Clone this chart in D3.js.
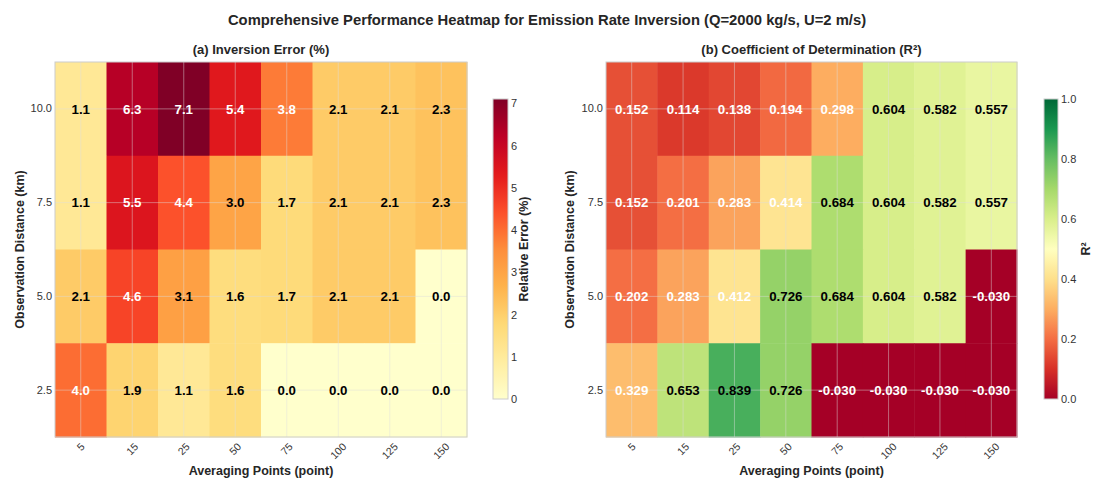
<!DOCTYPE html>
<html>
<head>
<meta charset="utf-8">
<script src="https://cdn.jsdelivr.net/npm/d3@7"></script>
<style>
  html, body { margin: 0; padding: 0; background: #fff; }
  svg { display: block; font-family: "Liberation Sans", Arial, sans-serif; }
</style>
</head>
<body>
<svg id="chart" width="1093" height="479"></svg>
<script>
// ---------- data ----------
const averagingPoints = ["5", "15", "25", "50", "75", "100", "125", "150"];
const distances = ["10.0", "7.5", "5.0", "2.5"]; // top to bottom
const errorValues = [
  [1.1, 6.3, 7.1, 5.4, 3.8, 2.1, 2.1, 2.3],
  [1.1, 5.5, 4.4, 3.0, 1.7, 2.1, 2.1, 2.3],
  [2.1, 4.6, 3.1, 1.6, 1.7, 2.1, 2.1, 0.0],
  [4.0, 1.9, 1.1, 1.6, 0.0, 0.0, 0.0, 0.0]
];
const r2Values = [
  [0.152, 0.114, 0.138, 0.194, 0.298, 0.604, 0.582, 0.557],
  [0.152, 0.201, 0.283, 0.414, 0.684, 0.604, 0.582, 0.557],
  [0.202, 0.283, 0.412, 0.726, 0.684, 0.604, 0.582, -0.030],
  [0.329, 0.653, 0.839, 0.726, -0.030, -0.030, -0.030, -0.030]
];
const errorTicks = [0, 1, 2, 3, 4, 5, 6, 7];
const r2Ticks = [0.0, 0.2, 0.4, 0.6, 0.8, 1.0];

const mainTitle = "Comprehensive Performance Heatmap for Emission Rate Inversion (Q=2000 kg/s, U=2 m/s)";

// ---------- colormaps (matplotlib, linear segmented) ----------
const YlOrRd = ["#ffffcc","#ffeda0","#fed976","#feb24c","#fd8d3c","#fc4e2a","#e31a1c","#bd0026","#800026"];
const RdYlGn = ["#a50026","#d73027","#f46d43","#fdae61","#fee08b","#ffffbf","#d9ef8b","#a6d96a","#66bd63","#1a9850","#006837"];
function cmap(colors) {
  const s = d3.scaleLinear()
    .domain(colors.map((c, i) => i / (colors.length - 1)))
    .range(colors).interpolate(d3.interpolateRgb).clamp(true);
  return t => s(Math.max(0, Math.min(1, t)));
}
const ylorrd = cmap(YlOrRd), rdylgn = cmap(RdYlGn);
const hyphen = f => v => f(v).replace("\u2212", "-");

const errMax = d3.max(errorValues.flat());

const svg = d3.select("#chart");
const defs = svg.append("defs");

svg.append("text")
  .attr("x", 547).attr("y", 25)
  .attr("text-anchor", "middle")
  .attr("font-size", 14.8).attr("font-weight", "bold").attr("fill", "#262626")
  .text(mainTitle);

function panel(cfg) {
  const x = d3.scaleBand().domain(averagingPoints).range([cfg.x0, cfg.x1]);
  const y = d3.scaleBand().domain(distances).range([cfg.y0, cfg.y1]);
  const g = svg.append("g");

  const cells = [];
  cfg.values.forEach((row, i) => row.forEach((v, j) =>
    cells.push({ r: distances[i], c: averagingPoints[j], v })));

  g.selectAll("rect.cell").data(cells).enter().append("rect")
    .attr("class", "cell")
    .attr("x", d => x(d.c)).attr("y", d => y(d.r))
    .attr("width", x.bandwidth() + 0.5).attr("height", y.bandwidth() + 0.5)
    .attr("fill", d => cfg.color(d.v));

  // grid lines (on top of image, seaborn whitegrid)
  g.selectAll("line.vg").data(averagingPoints).enter().append("line")
    .attr("x1", d => x(d) + x.bandwidth() / 2).attr("x2", d => x(d) + x.bandwidth() / 2)
    .attr("y1", cfg.y0).attr("y2", cfg.y1)
    .attr("stroke", "#dddddd").attr("stroke-opacity", 0.45).attr("stroke-width", 1);
  g.selectAll("line.hg").data(distances).enter().append("line")
    .attr("y1", d => y(d) + y.bandwidth() / 2).attr("y2", d => y(d) + y.bandwidth() / 2)
    .attr("x1", cfg.x0).attr("x2", cfg.x1)
    .attr("stroke", "#dddddd").attr("stroke-opacity", 0.45).attr("stroke-width", 1);

  // annotations
  g.selectAll("text.val").data(cells).enter().append("text")
    .attr("x", d => x(d.c) + x.bandwidth() / 2)
    .attr("y", d => y(d.r) + y.bandwidth() / 2)
    .attr("dy", "0.36em")
    .attr("text-anchor", "middle")
    .attr("font-size", 13.3).attr("font-weight", "bold")
    .attr("fill", d => cfg.textColor(d.v))
    .text(d => cfg.fmt(d.v));

  // frame
  g.append("rect")
    .attr("x", cfg.x0).attr("y", cfg.y0)
    .attr("width", cfg.x1 - cfg.x0).attr("height", cfg.y1 - cfg.y0)
    .attr("fill", "none").attr("stroke", "#cccccc").attr("stroke-width", 1);

  // y axis
  const ya = g.append("g").attr("transform", `translate(${cfg.x0 - 3},0)`)
    .call(d3.axisLeft(y).tickSize(0).tickPadding(0));
  ya.select(".domain").remove();
  ya.selectAll("text").attr("font-size", 11).attr("fill", "#333")
    .attr("font-family", "Liberation Sans, Arial, sans-serif");

  // x axis, labels rotated 45 deg, centred on tick
  const xa = g.append("g");
  averagingPoints.forEach(lbl => {
    const t = xa.append("text")
      .attr("font-size", 10.5).attr("fill", "#333")
      .attr("text-anchor", "middle").attr("dy", "0.35em")
      .text(lbl);
    const w = t.node().getComputedTextLength();
    const h = 8;
    const cy = cfg.y1 + 5 + (w + h) / (2 * Math.SQRT2);
    const cx = x(lbl) + x.bandwidth() / 2;
    t.attr("transform", `translate(${cx},${cy}) rotate(-45)`);
  });

  const cxMid = (cfg.x0 + cfg.x1) / 2;
  g.append("text").attr("x", cxMid).attr("y", 475)
    .attr("text-anchor", "middle").attr("font-size", 12.5).attr("font-weight", "bold").attr("fill", "#262626")
    .text("Averaging Points (point)");
  g.append("text")
    .attr("transform", `translate(${cfg.ylabelX},${(cfg.y0 + cfg.y1) / 2}) rotate(-90)`)
    .attr("text-anchor", "middle").attr("dy", "0.35em")
    .attr("font-size", 12.5).attr("font-weight", "bold").attr("fill", "#262626")
    .text("Observation Distance (km)");
  g.append("text").attr("x", cxMid).attr("y", 54)
    .attr("text-anchor", "middle").attr("font-size", 13).attr("font-weight", "bold").attr("fill", "#262626")
    .text(cfg.title);

  // colorbar
  const gid = "grad" + cfg.id;
  const grad = defs.append("linearGradient").attr("id", gid)
    .attr("x1", 0).attr("y1", 1).attr("x2", 0).attr("y2", 0);
  d3.range(0, 1.0001, 0.02).forEach(t => {
    grad.append("stop").attr("offset", t).attr("stop-color", cfg.color(cfg.cbMin + t * (cfg.cbMax - cfg.cbMin)));
  });
  const cb = cfg.cb;
  g.append("rect").attr("x", cb.x).attr("y", cb.y0).attr("width", cb.w).attr("height", cb.y1 - cb.y0)
    .attr("fill", `url(#${gid})`).attr("stroke", "#cccccc").attr("stroke-width", 1);
  const cs = d3.scaleLinear().domain([cfg.cbMin, cfg.cbMax]).range([cb.y1, cb.y0]);
  const ca = g.append("g").attr("transform", `translate(${cb.x + cb.w + 3},0)`)
    .call(d3.axisRight(cs).tickValues(cfg.cbTicks).tickFormat(cfg.cbFmt).tickSize(0).tickPadding(0));
  ca.select(".domain").remove();
  ca.selectAll("text").attr("font-size", 11).attr("fill", "#333")
    .attr("font-family", "Liberation Sans, Arial, sans-serif");
  g.append("text")
    .attr("transform", `translate(${cb.labelX},${(cb.y0 + cb.y1) / 2}) rotate(-90)`)
    .attr("text-anchor", "middle").attr("dy", "0.35em")
    .attr("font-size", 12.5).attr("font-weight", "bold").attr("fill", "#262626")
    .text(cfg.cbLabel);
}

panel({
  id: "a", title: "(a) Inversion Error (%)",
  x0: 55, x1: 467, y0: 62, y1: 437, ylabelX: 20,
  values: errorValues,
  color: v => ylorrd(v / errMax),
  textColor: v => v > errMax / 2 ? "#ffffff" : "#000000",
  fmt: hyphen(d3.format(".1f")),
  cbMin: 0, cbMax: errMax, cbTicks: errorTicks, cbFmt: d3.format("d"),
  cb: { x: 493, w: 15, y0: 99, y1: 399, labelX: 524 },
  cbLabel: "Relative Error (%)"
});

panel({
  id: "b", title: "(b) Coefficient of Determination (R²)",
  x0: 606, x1: 1017, y0: 62, y1: 437, ylabelX: 570,
  values: r2Values,
  color: v => rdylgn(v),
  textColor: v => v < 0.5 ? "#ffffff" : "#000000",
  fmt: hyphen(d3.format(".3f")),
  cbMin: 0, cbMax: 1, cbTicks: r2Ticks, cbFmt: d3.format(".1f"),
  cb: { x: 1044, w: 14, y0: 99, y1: 399, labelX: 1086 },
  cbLabel: "R²"
});
</script>
</body>
</html>
